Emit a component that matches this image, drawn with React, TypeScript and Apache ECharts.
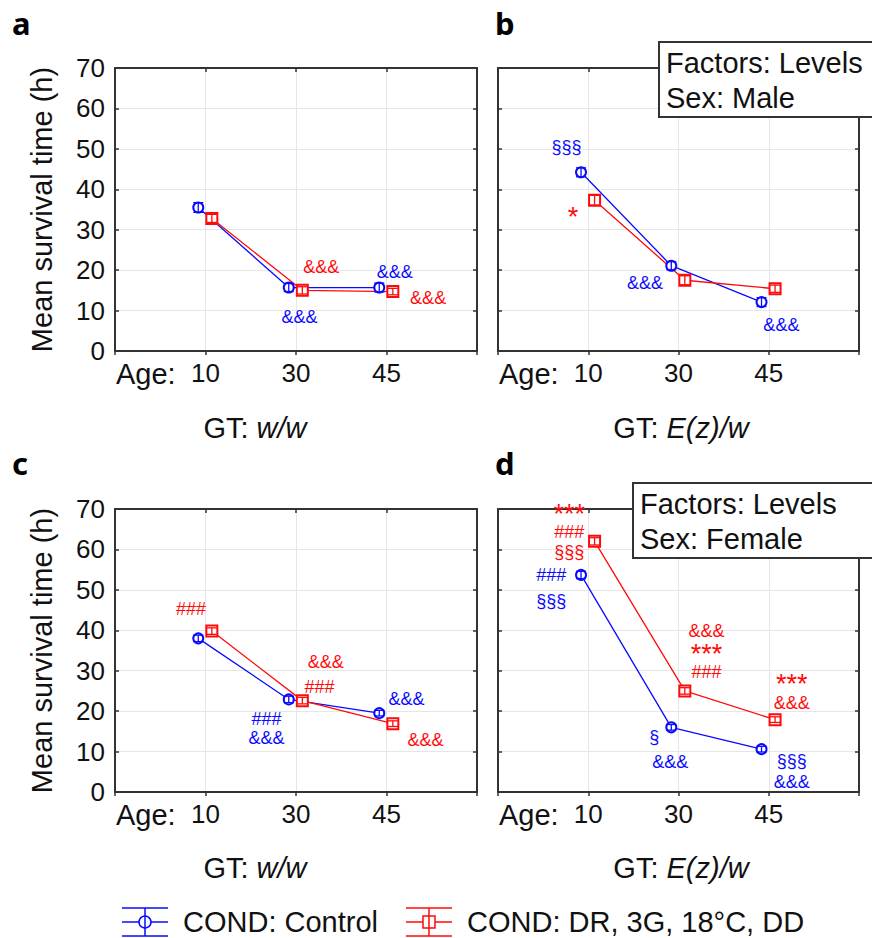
import React, { useEffect, useRef } from "react";
import * as echarts from "echarts";

// Age groups (days) on the x axis, placed at positions 1, 2, 3 of a 0..4 scale
const AGES = ["10", "30", "45"];

// Mean survival time (h) and standard error for each panel
const maleWwControl = [35.5, 15.7, 15.7];
const maleWwTreated = [32.8, 15.0, 14.7];
const maleWwControlSE = [1.2, 1.0, 1.1];
const maleWwTreatedSE = [1.0, 0.9, 0.8];

const maleEzControl = [44.2, 21.1, 12.1];
const maleEzTreated = [37.3, 17.5, 15.4];
const maleEzControlSE = [1.1, 1.0, 1.1];
const maleEzTreatedSE = [1.2, 1.1, 0.9];

const femaleWwControl = [38.0, 22.9, 19.5];
const femaleWwTreated = [39.8, 22.6, 16.9];
const femaleWwControlSE = [0.8, 0.8, 0.7];
const femaleWwTreatedSE = [0.8, 0.8, 0.7];

const femaleEzControl = [53.7, 16.0, 10.6];
const femaleEzTreated = [62.0, 25.0, 17.9];
const femaleEzControlSE = [0.9, 0.7, 0.7];
const femaleEzTreatedSE = [0.9, 0.8, 0.7];

// Significance marks: [x position, y value (centre of the stack), lines, group, line spacing]
// group: c = control, t = treated
type Note = [number, number, string, "c" | "t", number];
const notesA: Note[] = [
  [2.28, 20.8, "&&&", "t", 20],
  [3.09, 19.6, "&&&", "c", 20],
  [3.46, 13.1, "&&&", "t", 20],
  [2.04, 8.4, "&&&", "c", 20],
];
const notesB: Note[] = [
  [0.76, 50.5, "§§§", "c", 20],
  [0.83, 33.7, "*", "t", 20],
  [1.63, 16.8, "&&&", "c", 20],
  [3.14, 6.4, "&&&", "c", 20],
];
const notesC: Note[] = [
  [0.84, 45.3, "###", "t", 20],
  [2.33, 32.2, "&&&", "t", 20],
  [2.26, 26.0, "###", "t", 20],
  [1.675, 15.75, "###\n&&&", "c", 19],
  [3.22, 23.0, "&&&", "c", 20],
  [3.43, 12.9, "&&&", "t", 20],
];
const notesD: Note[] = [
  [0.79, 64.4, "***\n###\n§§§", "t", 20],
  [0.59, 50.5, "###\n§§§", "c", 26],
  [2.31, 34.65, "&&&\n***\n###", "t", 20.5],
  [1.73, 13.6, "§", "c", 20],
  [1.91, 7.4, "&&&", "c", 20],
  [3.255, 24.6, "***\n&&&", "t", 21],
  [3.255, 5.1, "§§§\n&&&", "c", 21],
];

const BLUE = "#0a0aff";
const RED = "#ff0a0a";
const FRAME = "#333333";
const INK = "#111111";
const SANS = "Liberation Sans";
const WORD_SIZE = 29;
const NUM_SIZE = 26;
const CONTROL_SHIFT = -0.08;
const TREATED_SHIFT = 0.07;

const panels = [
  { left: 115, top: 68, width: 362, height: 283, control: maleWwControl, controlSE: maleWwControlSE, treated: maleWwTreated, treatedSE: maleWwTreatedSE, notes: notesA, yLabels: true },
  { left: 498, top: 68, width: 361, height: 283, control: maleEzControl, controlSE: maleEzControlSE, treated: maleEzTreated, treatedSE: maleEzTreatedSE, notes: notesB, yLabels: false },
  { left: 115, top: 509, width: 362, height: 283, control: femaleWwControl, controlSE: femaleWwControlSE, treated: femaleWwTreated, treatedSE: femaleWwTreatedSE, notes: notesC, yLabels: true },
  { left: 498, top: 509, width: 361, height: 283, control: femaleEzControl, controlSE: femaleEzControlSE, treated: femaleEzTreated, treatedSE: femaleEzTreatedSE, notes: notesD, yLabels: false },
];

function errorBarSeries(axisIdx: number, values: number[], se: number[], shift: number, color: string) {
  return {
    type: "custom",
    xAxisIndex: axisIdx * 2,
    yAxisIndex: axisIdx * 2,
    z: 5,
    silent: true,
    data: values.map((v, i) => [i + 1 + shift, v, v - se[i], v + se[i]]),
    renderItem: (_params: any, api: any) => {
      const x = api.value(0);
      const lo = api.coord([x, api.value(2)]);
      const hi = api.coord([x, api.value(3)]);
      const half = 5;
      const style = { stroke: color, lineWidth: 1.3 };
      return {
        type: "group",
        children: [
          { type: "line", shape: { x1: lo[0], y1: lo[1], x2: hi[0], y2: hi[1] }, style },
          { type: "line", shape: { x1: lo[0] - half, y1: lo[1], x2: lo[0] + half, y2: lo[1] }, style },
          { type: "line", shape: { x1: hi[0] - half, y1: hi[1], x2: hi[0] + half, y2: hi[1] }, style },
        ],
      };
    },
  };
}

// one text block per stack; asterisks are set larger and pushed down so they sit mid-line
function noteLabel(n: Note) {
  const lh = n[4];
  const lines = n[2].split("\n");
  const text = lines.map((l) => (l.startsWith("*") ? `{s|${l}}` : `{n|${l}}`)).join("\n");
  const color = n[3] === "c" ? BLUE : RED;
  return {
    show: true,
    position: "inside",
    formatter: text,
    fontSize: 18,
    lineHeight: lh,
    fontFamily: SANS,
    color,
    rich: {
      n: { fontSize: 18, lineHeight: lh, fontFamily: SANS, color },
      s: { fontSize: 27, lineHeight: lh, fontFamily: SANS, color, padding: [4, 0, 0, 0] },
    },
  };
}

function buildOption() {
  const grid: any[] = [];
  const xAxis: any[] = [];
  const yAxis: any[] = [];
  const series: any[] = [];
  const graphic: any[] = [];

  panels.forEach((p, k) => {
    grid.push({ left: p.left, top: p.top, width: p.width, height: p.height, show: false });
    const baseX = {
      type: "value",
      gridIndex: k,
      min: 0,
      max: 4,
      interval: 1,
      axisLine: { show: true, onZero: false, lineStyle: { color: FRAME, width: 2 } },
    };
    xAxis.push({
      ...baseX,
      position: "bottom",
      axisTick: { show: true, inside: false, length: 4, lineStyle: { color: FRAME, width: 1.5 } },
      axisLabel: {
        show: true,
        margin: 9,
        fontSize: NUM_SIZE,
        fontFamily: SANS,
        color: INK,
        formatter: (v: number) => (v >= 1 && v <= 3 ? AGES[v - 1] : ""),
      },
      splitLine: { show: true, lineStyle: { color: "#e6e6e6", width: 1 } },
    });
    xAxis.push({
      ...baseX,
      position: "top",
      axisTick: { show: true, inside: true, length: 4, lineStyle: { color: FRAME, width: 1.5 } },
      axisLabel: { show: false },
      splitLine: { show: false },
    });
    const baseY = {
      type: "value",
      gridIndex: k,
      min: 0,
      max: 70,
      interval: 10,
      axisLine: { show: true, onZero: false, lineStyle: { color: FRAME, width: 2 } },
      axisTick: { show: true, inside: true, length: 4, lineStyle: { color: FRAME, width: 1.5 } },
    };
    yAxis.push({
      ...baseY,
      position: "left",
      axisLabel: { show: p.yLabels, margin: 10, fontSize: NUM_SIZE, fontFamily: SANS, color: INK },
      splitLine: { show: true, lineStyle: { color: "#e6e6e6", width: 1 } },
      name: p.yLabels ? "Mean survival time (h)" : "",
      nameLocation: "middle",
      nameGap: 59,
      nameTextStyle: { fontSize: WORD_SIZE, fontFamily: SANS, color: INK },
    });
    yAxis.push({
      ...baseY,
      position: "right",
      axisLabel: { show: false },
      splitLine: { show: false },
    });

    const xi = k * 2;
    series.push({
      type: "line",
      xAxisIndex: xi,
      yAxisIndex: xi,
      data: p.control.map((v, i) => [i + 1 + CONTROL_SHIFT, v]),
      symbol: "emptyCircle",
      symbolSize: 10,
      lineStyle: { color: BLUE, width: 1.3 },
      itemStyle: { color: BLUE, borderWidth: 1.3 },
      z: 3,
    });
    series.push({
      type: "line",
      xAxisIndex: xi,
      yAxisIndex: xi,
      data: p.treated.map((v, i) => [i + 1 + TREATED_SHIFT, v]),
      symbol: "emptyRect",
      symbolSize: 11,
      lineStyle: { color: RED, width: 1.3 },
      itemStyle: { color: RED, borderWidth: 1.3 },
      z: 3,
    });
    series.push(errorBarSeries(k, p.control, p.controlSE, CONTROL_SHIFT, BLUE));
    series.push(errorBarSeries(k, p.treated, p.treatedSE, TREATED_SHIFT, RED));
    series.push({
      type: "scatter",
      xAxisIndex: xi,
      yAxisIndex: xi,
      symbolSize: 0,
      silent: true,
      z: 6,
      itemStyle: { opacity: 1 },
      data: p.notes.map((n) => ({ value: [n[0], n[1]], label: noteLabel(n) })),
    });

    // row label in front of the age ticks
    graphic.push({
      type: "text",
      x: p.left + 1,
      y: p.top + p.height + 23,
      style: { text: "Age:", fontSize: WORD_SIZE, fontFamily: SANS, fill: INK, verticalAlign: "middle" },
    });
  });

  const gt = (x: number, y: number, geno: string) => ({
    type: "text",
    x,
    y,
    style: {
      text: `{n|GT: }{i|${geno}}`,
      align: "center",
      verticalAlign: "middle",
      rich: {
        n: { fontSize: WORD_SIZE, fontFamily: SANS, fill: INK },
        i: { fontSize: WORD_SIZE, fontFamily: SANS, fontStyle: "italic", fill: INK },
      },
    },
  });
  graphic.push(gt(255, 428, "w/w"), gt(681, 428, "E(z)/w"), gt(255, 868, "w/w"), gt(681, 868, "E(z)/w"));

  const letter = (x: number, y: number, t: string) => ({
    type: "text",
    x,
    y,
    style: { text: t, fontSize: 31, fontWeight: "bold", fontFamily: "Noto Sans", fill: "#000", verticalAlign: "middle" },
  });
  graphic.push(letter(12, 23, "a"), letter(495, 23, "b"), letter(12, 463, "c"), letter(495, 463, "d"));

  // factor boxes, drawn above the plot frame
  const box = (x: number, y: number, lines: string[]) => ({
    type: "group",
    z: 100,
    children: [
      { type: "rect", z: 100, shape: { x, y, width: 280, height: 75 }, style: { fill: "#fff", stroke: FRAME, lineWidth: 2 } },
      { type: "text", z: 101, x: x + 7, y: y + 21, style: { text: lines[0], fontSize: WORD_SIZE, fontFamily: SANS, fill: INK, verticalAlign: "middle" } },
      { type: "text", z: 101, x: x + 7, y: y + 56, style: { text: lines[1], fontSize: WORD_SIZE, fontFamily: SANS, fill: INK, verticalAlign: "middle" } },
    ],
  });
  graphic.push(box(659, 42, ["Factors: Levels", "Sex: Male"]));
  graphic.push(box(633, 483, ["Factors: Levels", "Sex: Female"]));

  // legend
  const legendItem = (x: number, y: number, color: string, marker: "circle" | "rect", label: string) => {
    const w = 46;
    const h = 14;
    const st = { stroke: color, lineWidth: 1.5 };
    const cx = x + w / 2;
    const mk =
      marker === "circle"
        ? { type: "circle", shape: { cx, cy: y, r: 6 }, style: { fill: "#fff", stroke: color, lineWidth: 1.5 } }
        : { type: "rect", shape: { x: cx - 6, y: y - 6, width: 12, height: 12 }, style: { fill: "#fff", stroke: color, lineWidth: 1.5 } };
    return {
      type: "group",
      children: [
        { type: "line", shape: { x1: x, y1: y - h, x2: x + w, y2: y - h }, style: st },
        { type: "line", shape: { x1: x, y1: y, x2: x + w, y2: y }, style: st },
        { type: "line", shape: { x1: x, y1: y + h, x2: x + w, y2: y + h }, style: st },
        mk,
        { type: "line", shape: { x1: cx, y1: y - h, x2: cx, y2: y + h }, style: st, z2: 10 },
        { type: "text", x: x + w + 15, y, style: { text: label, fontSize: WORD_SIZE, fontFamily: SANS, fill: INK, verticalAlign: "middle" } },
      ],
    };
  };
  graphic.push(legendItem(122, 922, BLUE, "circle", "COND: Control"));
  graphic.push(legendItem(406, 922, RED, "rect", "COND: DR, 3G, 18°C, DD"));

  return { animation: false, backgroundColor: "#fff", grid, xAxis, yAxis, series, graphic };
}

export default function App() {
  const ref = useRef<HTMLDivElement>(null);
  useEffect(() => {
    document.body.style.margin = "0";
    if (!ref.current) return;
    const chart = echarts.init(ref.current, null, { renderer: "svg" });
    chart.setOption(buildOption() as any);
    return () => chart.dispose();
  }, []);
  return <div ref={ref} style={{ width: 872, height: 938 }} />;
}
